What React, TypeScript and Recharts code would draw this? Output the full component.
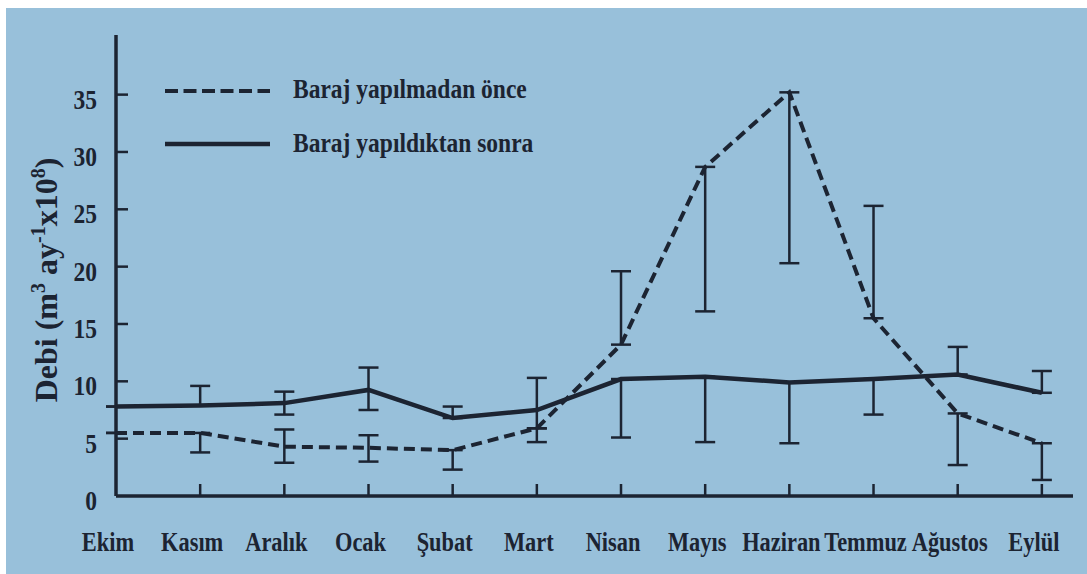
import React from 'react';
import { ErrorBar, Legend, Line, LineChart, XAxis, YAxis } from 'recharts';

const MONTHS = [
  'Ekim', 'Kasım', 'Aralık', 'Ocak', 'Şubat', 'Mart',
  'Nisan', 'Mayıs', 'Haziran', 'Temmuz', 'Ağustos', 'Eylül',
];

// debi, m3 ay-1 x10^8
const BEFORE_DAM = [5.5, 5.5, 4.3, 4.2, 4.0, 5.9, 13.2, 28.7, 35.2, 15.5, 7.2, 4.6];
const AFTER_DAM = [7.8, 7.9, 8.1, 9.25, 6.8, 7.5, 10.2, 10.4, 9.9, 10.2, 10.6, 9.0];

// visible ends of the error bars (null = no bar on that side)
const BEFORE_LOW = [null, 3.8, 2.9, 3.0, 2.3, null, null, 16.1, 20.3, null, 2.7, 1.4];
const BEFORE_HIGH = [null, null, 5.8, 5.3, null, null, 19.6, null, null, 25.3, null, null];
const AFTER_LOW = [null, null, 7.1, 7.5, null, 4.7, 5.1, 4.7, 4.6, 7.1, null, null];
const AFTER_HIGH = [null, 9.6, 9.1, 11.2, 7.8, 10.3, null, null, null, null, 13.0, 10.9];

const Y_TICKS = [0, 5, 10, 15, 20, 25, 30, 35];
const Y_MAX = 40.2;
const X_MAX = 11.37;

const SERIES = [
  { key: 'before', label: 'Baraj yapılmadan önce', dash: '11 6', legendDash: '13 5.5' },
  { key: 'after', label: 'Baraj yapıldıktan sonra', dash: undefined, legendDash: undefined },
];

const INK = '#1c2432';
const BG = '#98c0da';
const FONT = '"Liberation Serif", "Times New Roman", serif';
const SQUEEZE = 0.84;
const MONTH_SQUEEZE = 0.8;

const spread = (v: number, lo: number | null, hi: number | null): [number, number] => [
  lo == null ? 0 : +(v - lo).toFixed(2),
  hi == null ? 0 : +(hi - v).toFixed(2),
];

const chartData = MONTHS.map((month, i) => ({
  idx: i,
  month,
  before: BEFORE_DAM[i],
  after: AFTER_DAM[i],
  beforeErr: spread(BEFORE_DAM[i], BEFORE_LOW[i], BEFORE_HIGH[i]),
  afterErr: spread(AFTER_DAM[i], AFTER_LOW[i], AFTER_HIGH[i]),
}));

const textProps = {
  fontFamily: FONT,
  fontWeight: 700,
  fontSize: 28,
  fill: INK,
};

const MonthTick = (props: any) => {
  const { x, y, payload } = props;
  const i = payload.value as number;
  return (
    <g>
      {i > 0 && <line x1={x} x2={x} y1={y} y2={y - 12} stroke={INK} strokeWidth={2.5} />}
      <text
        {...textProps}
        textAnchor="middle"
        transform={`translate(${x - 8}, ${y + 55}) scale(${MONTH_SQUEEZE}, 1)`}
      >
        {MONTHS[i]}
      </text>
    </g>
  );
};

const ValueTick = (props: any) => {
  const { x, y, payload } = props;
  return (
    <g>
      {payload.value > 0 && <line x1={x} x2={x + 12} y1={y} y2={y} stroke={INK} strokeWidth={2.5} />}
      <text
        {...textProps}
        textAnchor="end"
        transform={`translate(${x - 19}, ${y + 14}) scale(${SQUEEZE}, 1)`}
      >
        {payload.value}
      </text>
    </g>
  );
};

const YTitle = () => (
  <text
    fontFamily={FONT}
    fontWeight={700}
    fontSize={32}
    fill={INK}
    textAnchor="middle"
    transform="translate(57, 280) rotate(-90)"
  >
    Debi (m
    <tspan dy={-12} fontSize={20}>3</tspan>
    <tspan dy={12}> ay</tspan>
    <tspan dy={-12} fontSize={20}>-1</tspan>
    <tspan dy={12}>x10</tspan>
    <tspan dy={-12} fontSize={20}>8</tspan>
    <tspan dy={12}>)</tspan>
  </text>
);

const LegendBox = () => (
  <svg width={420} height={110}>
    {SERIES.map((s, i) => (
      <g key={s.key}>
        <line
          x1={15}
          x2={120}
          y1={31 + i * 53}
          y2={31 + i * 53}
          stroke={INK}
          strokeWidth={s.legendDash ? 4 : 4.5}
          strokeDasharray={s.legendDash}
        />
        <text {...textProps} transform={`translate(143, ${38 + i * 54}) scale(${SQUEEZE}, 1)`}>
          {s.label}
        </text>
      </g>
    ))}
  </svg>
);

const App: React.FC = () => (
  <div style={{ position: 'absolute', left: 0, top: 0, width: 1087, height: 574, background: '#fff' }}>
    <div style={{ position: 'absolute', left: 6, top: 8, right: 0, bottom: 0, background: BG }} />
    <div style={{ position: 'absolute', left: 0, top: 0 }}>
      <LineChart
        width={1087}
        height={574}
        data={chartData}
        margin={{ top: 35, right: 14, bottom: 77, left: 115 }}
      >
        <XAxis
          dataKey="idx"
          type="number"
          domain={[0, X_MAX]}
          ticks={MONTHS.map((_, i) => i)}
          interval={0}
          height={1}
          tickSize={0}
          tickMargin={0}
          tickLine={false}
          tick={<MonthTick />}
          axisLine={{ stroke: INK, strokeWidth: 3.5 }}
          allowDataOverflow
        />
        <YAxis
          type="number"
          domain={[0, Y_MAX]}
          ticks={Y_TICKS}
          interval={0}
          width={1}
          tickSize={0}
          tickMargin={0}
          tickLine={false}
          tick={<ValueTick />}
          axisLine={{ stroke: INK, strokeWidth: 3.5 }}
          label={<YTitle />}
          allowDataOverflow
        />
        <Legend
          layout="horizontal"
          verticalAlign="middle"
          align="center"
          wrapperStyle={{ top: 60, left: 150, width: 420, height: 110 }}
          content={() => <LegendBox />}
        />
        <Line
          type="linear"
          dataKey="before"
          name={SERIES[0].label}
          stroke={INK}
          strokeWidth={4}
          strokeDasharray={SERIES[0].dash}
          dot={false}
          activeDot={false}
          isAnimationActive={false}
        >
          <ErrorBar dataKey="beforeErr" direction="y" width={10} stroke={INK} strokeWidth={2.5} />
        </Line>
        <Line
          type="linear"
          dataKey="after"
          name={SERIES[1].label}
          stroke={INK}
          strokeWidth={4.5}
          dot={false}
          activeDot={false}
          isAnimationActive={false}
        >
          <ErrorBar dataKey="afterErr" direction="y" width={10} stroke={INK} strokeWidth={2.5} />
        </Line>
      </LineChart>
    </div>
  </div>
);

export default App;
